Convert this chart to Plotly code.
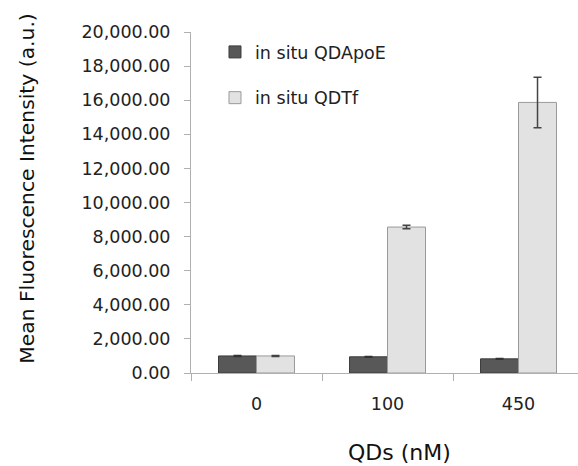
import plotly.graph_objects as go

categories = ["0", "100", "450"]
apoe_values = [1000, 950, 830]
apoe_errors = [30, 20, 20]
tf_values = [1000, 8560, 15870]
tf_errors = [30, 100, 1480]
series_names = ["in situ QDApoE", "in situ QDTf"]
y_ticks = [0, 2000, 4000, 6000, 8000, 10000, 12000, 14000, 16000, 18000, 20000]
x_title = "QDs (nM)"
y_title = "Mean Fluorescence Intensity (a.u.)"

font_family = "DejaVu Sans, sans-serif"

fig = go.Figure()
fig.add_trace(go.Bar(
    x=categories, y=apoe_values, name=series_names[0],
    marker=dict(color="#585858", line=dict(color="#3c3c3c", width=1)),
    error_y=dict(type="data", array=apoe_errors, color="#333333", thickness=1.5, width=4),
    legendgroup="a",
))
fig.add_trace(go.Bar(
    x=categories, y=tf_values, name=series_names[1],
    marker=dict(color="#e2e2e2", line=dict(color="#9a9a9a", width=1)),
    error_y=dict(type="data", array=tf_errors, color="#444444", thickness=1.5, width=4),
    legendgroup="b",
))

fig.update_layout(
    width=578, height=466,
    margin=dict(l=191, r=0, t=32, b=93),
    paper_bgcolor="white", plot_bgcolor="white",
    barmode="group", bargap=0.42, bargroupgap=0,
    font=dict(family=font_family, color="#222222"),
    showlegend=True,
    legend=dict(x=0.062, y=0.994, xanchor="left", yanchor="top",
                font=dict(size=17.5, color="#222222"),
                tracegroupgap=20, traceorder="grouped",
                bgcolor="rgba(0,0,0,0)"),
    xaxis=dict(
        range=[-0.5, 2.454],
        showline=True, linecolor="#b0b0b0", linewidth=1,
        ticks="outside", tickson="boundaries", ticklen=7, tickcolor="#b0b0b0",
        tickfont=dict(size=17.5, color="#222222"),
        ticklabelstandoff=15,
        showgrid=False,
    ),
    yaxis=dict(
        range=[0, 20000],
        tickvals=y_ticks,
        tickformat=",.2f",
        showline=True, linecolor="#b0b0b0", linewidth=1,
        ticks="outside", ticklen=6, tickcolor="#b0b0b0",
        tickfont=dict(size=17.5, color="#222222"),
        ticklabelstandoff=10,
        showgrid=False, zeroline=False,
    ),
    annotations=[
        dict(text=y_title, xref="paper", yref="paper", x=-0.424, y=0.543,
             xanchor="center", yanchor="middle", textangle=-90, showarrow=False,
             font=dict(size=20.3, color="#111111")),
        dict(text=x_title, xref="paper", yref="paper", x=0.54, y=-0.232,
             xanchor="center", yanchor="middle", showarrow=False,
             font=dict(size=22, color="#111111")),
    ],
)

fig.write_html("out.html")
